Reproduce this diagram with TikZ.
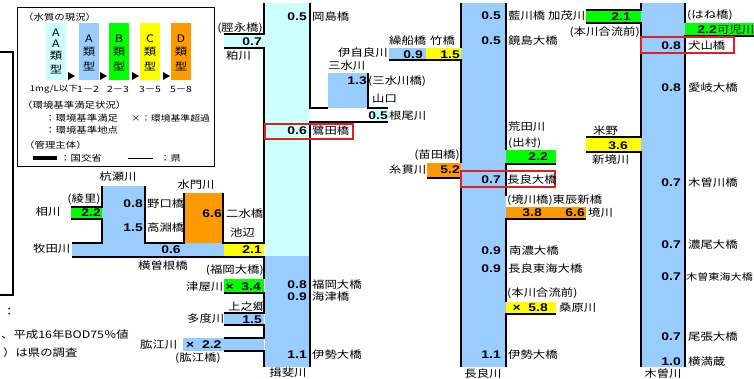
\documentclass[tikz,border=0pt]{standalone}
\usepackage{fontspec}
\setmainfont{Liberation Sans}
\newfontfamily\jpfont[FakeStretch=1.2]{Noto Sans CJK JP}
\newfontfamily\numfont[FakeStretch=1.25]{Liberation Sans}
\usetikzlibrary{positioning}
\definecolor{typAA}{HTML}{CCFFFF}
\definecolor{typA}{HTML}{99CCFF}
\definecolor{typB}{HTML}{00FF00}
\definecolor{typC}{HTML}{FFFF00}
\definecolor{typD}{HTML}{FF9900}
\definecolor{chkred}{HTML}{E02020}

\tikzset{
  lbl/.style={inner sep=0pt, font=\jpfont\fontsize{8.8}{9}\selectfont},
  lgd/.style={inner sep=0pt, font=\jpfont\fontsize{7.4}{8}\selectfont},
  val/.style={inner sep=0pt, font=\numfont\bfseries\fontsize{9.5}{10}\selectfont},
  bank/.style={line width=1.4pt},
  chk/.style={draw=chkred, line width=1pt},
}

\begin{document}
\begin{tikzpicture}[x=0.03cm, y=-0.03cm]
\useasboundingbox (0,0) rectangle (754,378);

% colour of the river stretches
\fill[typAA] (265,3) rectangle (310,256);
\fill[typA]  (265,256) rectangle (310,367);
\fill[typA]  (461,3) rectangle (506,367);
\fill[typA]  (641,3) rectangle (685,367);
\fill[typAA] (224,34) rectangle (264,48);
\fill[typA]  (328,73) rectangle (368,108);
\fill[typAA] (372,109) rectangle (388,121);
\fill[typA]  (389,48) rectangle (426,60);
\fill[typC]  (426,48) rectangle (461,60);
\fill[typD]  (427,163) rectangle (461,177);
\fill[typB]  (506,150) rectangle (556,163);
\fill[typD]  (506,207) rectangle (586,218);
\fill[typC]  (506,302) rectangle (556,313);
\fill[typB]  (586,10) rectangle (641,23);
\fill[typC]  (586,138) rectangle (641,151);
\fill[typB]  (685,23) rectangle (754,35);
\fill[typA]  (102,186) rectangle (145,243);
\fill[typB]  (71,207) rectangle (102,219);
\fill[typD]  (184,193) rectangle (223,243);
\fill[typA]  (72,243) rectangle (224,257);
\fill[typC]  (224,243) rectangle (264,257);
\fill[typB]  (224,279) rectangle (264,292);
\fill[typA]  (224,313) rectangle (264,325);
\fill[typA]  (183,338) rectangle (264,351);

% banks: Ibi
\draw[bank] (310,3) -- (310,108) -- (328,108);
\draw[bank] (368,73) -- (368,108) -- (388,108);
\draw[bank] (388,122) -- (310,122) -- (310,367);
\draw[bank] (264,3) -- (264,34) -- (224,34);
\draw[bank] (224,48) -- (264,48) -- (264,243) -- (223,243) -- (223,193);
\draw[bank] (184,193) -- (184,243) -- (145,243) -- (145,186);
\draw[bank] (102,186) -- (102,207) -- (71,207);
\draw[bank] (71,219) -- (102,219) -- (102,243) -- (72,243);
\draw[bank] (72,257) -- (264,257) -- (264,279);
\draw[bank] (224,293) -- (264,293) -- (264,313) -- (224,313);
\draw[bank] (224,325) -- (264,325) -- (264,338) -- (224,338);
\draw[bank] (224,351) -- (264,351) -- (264,367);
% banks: Nagara
\draw[bank] (461,3) -- (461,48);
\draw[bank] (389,60) -- (461,60) -- (461,163);
\draw[bank] (427,178) -- (461,178) -- (461,367);
\draw[bank] (506,3) -- (506,150);
\draw[bank] (556,164) -- (506,164) -- (506,196);
\draw[bank] (586,219) -- (506,219) -- (506,302);
\draw[bank] (556,314) -- (506,314) -- (506,367);
% banks: Kiso
\draw[bank] (641,3) -- (641,10) -- (586,10);
\draw[bank] (586,23) -- (641,23) -- (641,137) -- (586,137);
\draw[bank] (586,152) -- (641,152) -- (641,367);
\draw[bank] (685,3) -- (685,23);
\draw[bank] (754,36) -- (685,36) -- (685,367);

% reference points
\draw[chk] (265,124) rectangle (353,139);
\draw[chk] (461,171) rectangle (555,187);
\draw[chk] (641,37) rectangle (734,53);

% cut-off note frame
\draw[line width=1pt] (0,52) -- (13,52) -- (13,295) -- (0,295);
\node[lbl, anchor=west] (note1) at (3,312) {：};
\node[lbl, anchor=west] (note2) at (1,335) {、平成16年BOD75％値};
\node[lbl, anchor=west] (note3) at (3,353) {）は県の調査};

% legend
\draw[line width=0.8pt] (17,7) rectangle (214,166);
\node[lgd, anchor=west] (lgtitle) at (23,17) {（水質の現況）};
\foreach \c/\x in {typAA/46, typA/79, typB/109, typC/140, typD/171}
  \fill[\c] (\x,23) rectangle ++(20,57);
\foreach \x in {68,100,132,163}
  \fill (\x,72) -- (\x+7,76) -- (\x,80) -- cycle;
\node[lbl] (ltrAA1) at (56,33) {A};
\node[lbl] (ltrAA2) at (56,44) {A};
\node[lbl] (ruiAA) at (56,56) {類};
\node[lbl] (keiAA) at (56,69) {型};
\foreach \x/\l in {89/A, 119/B, 150/C, 181/D} {
  \node[lbl] (ltr\l) at (\x,39) {\l};
  \node[lbl] (rui\l) at (\x,52) {類};
  \node[lbl] (kei\l) at (\x,66) {型};
}
\node[lgd, font=\jpfont\fontsize{6.8}{7}\selectfont] (rgAA) at (54,89) {1mg/L以下};
\node[lgd] (rgA) at (88,89) {1－2};
\node[lgd] (rgB) at (118,89) {2－3};
\node[lgd] (rgC) at (150,89) {3－5};
\node[lgd] (rgD) at (181,89) {5－8};
\node[lgd, anchor=west] (lgstd) at (22,105) {（環境基準満足状況）};
\node[lgd, anchor=west] (lgok) at (45,118) {：環境基準満足};
\node[lgd, anchor=west, font=\jpfont\fontsize{7}{8}\selectfont] (lgng) at (131,118) {×：環境基準超過};
\node[lgd, anchor=west] (lgpt) at (45,130) {：環境基準地点};
\node[lgd, anchor=west] (lgmgr) at (24,145) {（管理主体）};
\draw[line width=2.6pt] (33,158) -- (57,158);
\node[lgd, anchor=west] (lgkuni) at (60,158) {：国交省};
\draw[line width=0.8pt] (128,158) -- (153,158);
\node[lgd, anchor=west] (lgken) at (160,158) {：県};

% Ibi river and its branches
\node[val, anchor=east] (v_okajima) at (307,17) {0.5};
\node[lbl, anchor=west] (okajima) at (312,17) {岡島橋};
\node[val, anchor=east] (v_sagita) at (307,131) {0.6};
\node[lbl, anchor=west] (sagita) at (312,131) {鷺田橋};
\node[val, anchor=east] (v_fukuoka) at (307,285) {0.8};
\node[lbl, anchor=west] (fukuoka) at (312,285) {福岡大橋};
\node[val, anchor=east] (v_kaizu) at (307,297) {0.9};
\node[lbl, anchor=west] (kaizu) at (312,297) {海津橋};
\node[val, anchor=east] (v_iseibi) at (307,355) {1.1};
\node[lbl, anchor=west] (iseibi) at (312,355) {伊勢大橋};
\node[lbl] (ibi) at (288,373) {揖斐川};

\node[lbl, anchor=east] (sunenaga) at (263,28) {(脛永橋)};
\node[val, anchor=east] (v_kasu) at (262,42) {0.7};
\node[lbl, anchor=west] (kasu) at (226,56) {粕川};

\node[lbl, anchor=west] (ijira) at (338,53) {伊自良川};
\node[lbl, anchor=west] (sanzui) at (328,66) {三水川};
\node[val, anchor=east] (v_sanzui) at (367,81) {1.3};
\node[lbl, anchor=west] (sanzuibr) at (368,81) {(三水川橋)};
\node[lbl, anchor=west] (yamaguchi) at (372,99) {山口};
\node[val, anchor=east] (v_neo) at (388,116) {0.5};
\node[lbl, anchor=west] (neo) at (389,116) {根尾川};
\node[lbl, anchor=west] (kurifune) at (389,41) {繰船橋};
\node[lbl, anchor=west] (takehashi) at (430,41) {竹橋};
\node[val, anchor=east] (v_kurifune) at (423,55) {0.9};
\node[val, anchor=east] (v_takehashi) at (460,55) {1.5};

\node[lbl] (kuise) at (118,177) {杭瀬川};
\node[val, anchor=east] (v_noguchi) at (143,204) {0.8};
\node[lbl, anchor=west] (noguchi) at (147,204) {野口橋};
\node[val, anchor=east] (v_takabuchi) at (143,228) {1.5};
\node[lbl, anchor=west] (takabuchi) at (147,228) {高淵橋};
\node[lbl] (suimon) at (196,185) {水門川};
\node[val, anchor=east] (v_nisui) at (222,214) {6.6};
\node[lbl, anchor=west] (nisui) at (226,214) {二水橋};
\node[lbl, anchor=west] (ikenobe) at (230,233) {池辺};
\node[lbl] (ayasato) at (84,199) {(綾里)};
\node[val, anchor=east] (v_aikawa) at (101,213) {2.2};
\node[lbl] (aikawa) at (48,212) {相川};
\node[lbl, anchor=west] (makita) at (33,249) {牧田川};
\node[val] (v_yokosone) at (171,250) {0.6};
\node[val, anchor=east] (v_ikenobe) at (262,250) {2.1};
\node[lbl, anchor=west] (yokosone) at (138,266) {横曽根橋};
\node[lbl, anchor=east] (fukuokatsuya) at (264,270) {(福岡大橋)};
\node[lbl, anchor=west] (tsuya) at (186,287) {津屋川};
\node[val, anchor=east] (v_tsuya) at (261,287) {×\ \ 3.4};
\node[lbl, anchor=west] (kaminogo) at (228,307) {上之郷};
\node[val, anchor=east] (v_tado) at (262,320) {1.5};
\node[lbl, anchor=west] (tado) at (187,319) {多度川};
\node[lbl, anchor=west] (hiji) at (140,345) {肱江川};
\node[val, anchor=west] (v_hiji) at (186,345) {×\ \ 2.2};
\node[lbl, anchor=west] (hijibr) at (175,358) {(肱江橋)};

% Nagara river and its branches
\node[val, anchor=east] (v_aikawabr) at (501,16) {0.5};
\node[lbl, anchor=west] (aikawabr) at (508,16) {藍川橋};
\node[val, anchor=east] (v_kagami) at (501,41) {0.5};
\node[lbl, anchor=west] (kagami) at (508,41) {鏡島大橋};
\node[val, anchor=east] (v_nagarabr) at (501,180) {0.7};
\node[lbl, anchor=west] (nagarabr) at (507,180) {長良大橋};
\node[val, anchor=east] (v_nanno) at (501,251) {0.9};
\node[lbl, anchor=west] (nanno) at (509,251) {南濃大橋};
\node[val, anchor=east] (v_nagaratokai) at (501,269) {0.9};
\node[lbl, anchor=west] (nagaratokai) at (508,269) {長良東海大橋};
\node[val, anchor=east] (v_isenag) at (501,355) {1.1};
\node[lbl, anchor=west] (isenag) at (508,355) {伊勢大橋};
\node[lbl] (nagara) at (483,374) {長良川};

\node[lbl, anchor=west] (arata) at (508,127) {荒田川};
\node[lbl, anchor=west] (demura) at (508,143) {(出村)};
\node[val, anchor=east] (v_arata) at (548,157) {2.2};
\node[lbl, anchor=east] (nawada) at (460,155) {(苗田橋)};
\node[lbl, anchor=west] (itonuki) at (389,170) {糸貫川};
\node[val, anchor=east] (v_itonuki) at (460,170) {5.2};
\node[lbl, anchor=west] (toshin) at (507,200) {(境川橋)東辰新橋};
\node[val, anchor=east] (v_sakaibr) at (542,213) {3.8};
\node[val, anchor=east] (v_toshin) at (585,213) {6.6};
\node[lbl, anchor=west] (sakai) at (588,213) {境川};
\node[lbl, anchor=west] (kuwagoryu) at (507,293) {(本川合流前)};
\node[val, anchor=east] (v_kuwabara) at (548,308) {×\ \ 5.8};
\node[lbl, anchor=west] (kuwabara) at (559,308) {桑原川};

% Kiso river and its branches
\node[lbl, anchor=west] (kamo) at (548,16) {加茂川};
\node[val, anchor=east] (v_kamo) at (631,17) {2.1};
\node[lbl, anchor=east] (kamogoryu) at (640,32) {(本川合流前)};
\node[lbl, anchor=west] (yoneno) at (593,131) {米野};
\node[val, anchor=east] (v_yoneno) at (628,146) {3.6};
\node[lbl, anchor=west] (shinsakai) at (592,160) {新境川};
\node[lbl, anchor=west] (hanebr) at (687,15) {(はね橋)};
\node[val, anchor=east] (v_kani) at (717,30) {2.2};
\node[lbl, anchor=west] (kani) at (717,30) {可児川};
\node[val, anchor=east] (v_inuyama) at (681,46) {0.8};
\node[lbl, anchor=west] (inuyama) at (688,46) {犬山橋};
\node[val, anchor=east] (v_aigi) at (681,88) {0.8};
\node[lbl, anchor=west] (aigi) at (688,88) {愛岐大橋};
\node[val, anchor=east] (v_kisobr) at (681,183) {0.7};
\node[lbl, anchor=west] (kisobr) at (688,183) {木曽川橋};
\node[val, anchor=east] (v_nobi) at (681,245) {0.7};
\node[lbl, anchor=west] (nobi) at (688,245) {濃尾大橋};
\node[val, anchor=east] (v_kisotokai) at (681,277) {0.7};
\node[lbl, anchor=west, font=\jpfont\fontsize{7.9}{8}\selectfont] (kisotokai) at (686,277) {木曽東海大橋};
\node[val, anchor=east] (v_owari) at (681,337) {0.7};
\node[lbl, anchor=west] (owari) at (688,337) {尾張大橋};
\node[val, anchor=east] (v_yokomakura) at (681,362) {1.0};
\node[lbl, anchor=west] (yokomakura) at (688,362) {横満蔵};
\node[lbl] (kiso) at (663,374) {木曽川};
\end{tikzpicture}
\end{document}
